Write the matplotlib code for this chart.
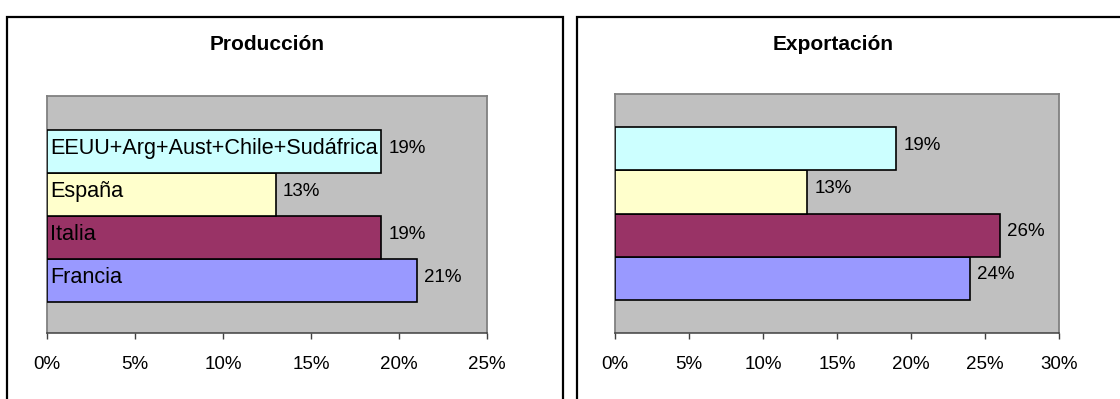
import matplotlib
matplotlib.use("Agg")
import matplotlib.pyplot as plt
from matplotlib.patches import Rectangle
from matplotlib.ticker import FuncFormatter, MultipleLocator

plt.rcParams['font.family'] = ['Liberation Sans', 'DejaVu Sans']

categories = ["Francia", "Italia", "España", "EEUU+Arg+Aust+Chile+Sudáfrica"]
colors = ["#9999FF", "#993366", "#FFFFCC", "#CCFFFF"]
produccion = [21, 19, 13, 19]
exportacion = [24, 26, 13, 19]
titles = ["Producción", "Exportación"]
xmax = [25, 30]

W, H = 1120, 399
fig = plt.figure(figsize=(W / 100, H / 100), dpi=100)

def px_axes(x0, y0, x1, y1):
    return fig.add_axes([x0 / W, (H - y1) / H, (x1 - x0) / W, (y1 - y0) / H])

# chart frames
for fx0, fx1 in [(7, 563), (577, 1130)]:
    fig.patches.append(Rectangle((fx0 / W, -0.1), (fx1 - fx0) / W, (H - 17) / H + 0.1,
                                 transform=fig.transFigure, fill=False,
                                 edgecolor="black", linewidth=1.6, zorder=0))

axes_px = [(47, 96, 487, 333), (615, 94, 1059, 333)]
title_x = [267, 833]
data = [produccion, exportacion]
ylims = [(-1.22, 4.29), (-1.26, 4.26)]

for i in range(2):
    ax = px_axes(*axes_px[i])
    ax.set_facecolor("#C0C0C0")
    ypos = list(range(len(categories)))
    ax.barh(ypos, data[i], height=1.0, color=colors, edgecolor="black", linewidth=1.2, zorder=3)
    ax.set_xlim(0, xmax[i])
    ax.set_ylim(*ylims[i])
    ax.xaxis.set_major_locator(MultipleLocator(5))
    ax.xaxis.set_major_formatter(FuncFormatter(lambda v, p: f"{int(round(v))}%"))
    ax.set_yticks([])
    ax.tick_params(axis="x", direction="out", length=4.3, width=1, color="#404040",
                   labelsize=13.5, pad=12)
    for s in ["left", "top", "right"]:
        ax.spines[s].set_color("#808080")
        ax.spines[s].set_linewidth(1.3)
    ax.spines["bottom"].set_color("#404040")
    ax.spines["bottom"].set_linewidth(1.1)
    for y, v in zip(ypos, data[i]):
        ax.annotate(f"{v}%", xy=(v, y), xytext=(5, 2.5), textcoords="offset points",
                    ha="left", va="center", fontsize=13.5, zorder=4)
    if i == 0:
        for y, c in zip(ypos, categories):
            ax.annotate(c, xy=(0, y), xytext=(2.5, 2.5), textcoords="offset points",
                        ha="left", va="center", fontsize=15.6, zorder=4)
    fig.text(title_x[i] / W, (H - 44) / H, titles[i], ha="center", va="center",
             fontsize=15, fontweight="bold")

fig.savefig("out.png", dpi=100)
